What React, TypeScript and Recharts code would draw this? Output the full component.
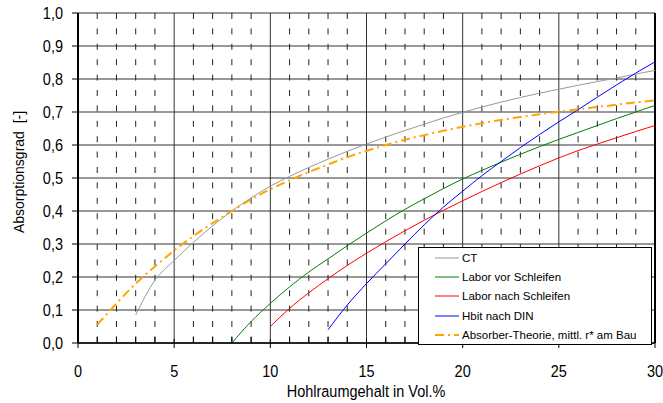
import { LineChart, Line, XAxis, YAxis, CartesianGrid, ReferenceLine, Legend } from "recharts"

const fontFamily = "'Liberation Sans', Arial, sans-serif"

// x ticks
const majorX = [0, 5, 10, 15, 20, 25, 30]
const minorX = [1, 2, 3, 4, 6, 7, 8, 9, 11, 12, 13, 14, 16, 17, 18, 19, 21, 22, 23, 24, 26, 27, 28, 29]
const allX = [0, 1, 2, 3, 4, 5, 6, 7, 8, 9, 10, 11, 12, 13, 14, 15, 16, 17, 18, 19, 20, 21, 22, 23, 24, 25, 26, 27, 28, 29, 30]

// y ticks
const yTicks = [0, 0.1, 0.2, 0.3, 0.4, 0.5, 0.6, 0.7, 0.8, 0.9, 1.0]
const yTickLabels = ["0,0", "0,1", "0,2", "0,3", "0,4", "0,5", "0,6", "0,7", "0,8", "0,9", "1,0"]

const seriesNames = [
  "CT",
  "Labor vor Schleifen",
  "Labor nach Schleifen",
  "Hbit nach DIN",
  "Absorber-Theorie, mittl. r* am Bau",
]
const seriesColors = ["#9a9a9a", "#008000", "#ff0000", "#0000ff", "#ffa500"]

// CT
const ctX = [3, 4, 5, 6, 7, 8, 9, 10, 11, 12, 13, 14, 15, 16, 17, 18, 19, 20, 21, 22, 23, 24, 25, 26, 27, 28, 29, 30]
const ctY = [0.085, 0.19, 0.25, 0.305, 0.355, 0.4, 0.44, 0.475, 0.505, 0.532, 0.557, 0.581, 0.603, 0.624, 0.644, 0.663, 0.682, 0.699, 0.715, 0.73, 0.744, 0.757, 0.769, 0.781, 0.792, 0.803, 0.815, 0.826]

// Labor vor Schleifen
const vorX = [8, 9, 10, 11, 12, 13, 14, 15, 16, 17, 18, 19, 20, 21, 22, 23, 24, 25, 26, 27, 28, 29, 30]
const vorY = [0, 0.065, 0.12, 0.17, 0.215, 0.255, 0.295, 0.333, 0.37, 0.405, 0.437, 0.468, 0.497, 0.523, 0.548, 0.572, 0.595, 0.617, 0.638, 0.659, 0.68, 0.7, 0.72]

// Labor nach Schleifen
const nachX = [10, 11, 12, 13, 14, 15, 16, 17, 18, 19, 20, 21, 22, 23, 24, 25, 26, 27, 28, 29, 30]
const nachY = [0.05, 0.105, 0.152, 0.195, 0.235, 0.272, 0.307, 0.34, 0.372, 0.402, 0.431, 0.459, 0.486, 0.512, 0.537, 0.561, 0.583, 0.603, 0.622, 0.641, 0.659]

// Hbit nach DIN
const dinX = [13, 14, 15, 16, 17, 18, 19, 20, 21, 22, 23, 24, 25, 26, 27, 28, 29, 30]
const dinY = [0.04, 0.115, 0.18, 0.24, 0.3, 0.358, 0.412, 0.46, 0.507, 0.55, 0.592, 0.632, 0.67, 0.707, 0.745, 0.782, 0.818, 0.852]

// Absorber-Theorie
const theoX = [1, 2, 3, 4, 5, 6, 7, 8, 9, 10, 11, 12, 13, 14, 15, 16, 17, 18, 19, 20, 21, 22, 23, 24, 25, 26, 27, 28, 29, 30]
const theoY = [0.055, 0.12, 0.18, 0.232, 0.28, 0.324, 0.363, 0.4, 0.435, 0.466, 0.493, 0.518, 0.541, 0.563, 0.582, 0.6, 0.616, 0.63, 0.643, 0.655, 0.666, 0.676, 0.685, 0.693, 0.701, 0.708, 0.715, 0.722, 0.729, 0.735]

const toPoints = (xs: number[], ys: number[]) => xs.map((x, i) => ({ x, y: ys[i] }))

const series = [
  { data: toPoints(ctX, ctY), width: 1, dash: undefined },
  { data: toPoints(vorX, vorY), width: 1, dash: undefined },
  { data: toPoints(nachX, nachY), width: 1, dash: undefined },
  { data: toPoints(dinX, dinY), width: 1, dash: undefined },
  { data: toPoints(theoX, theoY), width: 2, dash: "9 4 2 4" },
]

function XTick(props: any) {
  const { x, y, payload } = props
  const v = payload.value
  const major = majorX.includes(v)
  return (
    <g>
      {major ? (
        <line x1={x} x2={x} y1={y - 4} y2={y + 5} stroke="#000" />
      ) : (
        <line x1={x} x2={x} y1={y - 6} y2={y} stroke="#000" />
      )}
      {major && (
        <text
          transform={`translate(${x},${y + 34}) scale(1,1.17)`}
          textAnchor="middle"
          fontSize={14.5}
          fontFamily={fontFamily}
          fill="#000"
        >
          {v}
        </text>
      )}
    </g>
  )
}

function YTick(props: any) {
  const { x, y, payload } = props
  const idx = yTicks.indexOf(payload.value)
  return (
    <text
      transform={`translate(${x},${y + 6}) scale(1,1.17)`}
      textAnchor="end"
      fontSize={14.5}
      fontFamily={fontFamily}
      fill="#000"
    >
      {yTickLabels[idx]}
    </text>
  )
}

const renderLegend = () => (
  <div
    style={{
      border: "1px solid #000",
      background: "#fff",
      width: 234,
      height: 98,
      boxSizing: "border-box",
      fontFamily,
      fontSize: 11.5,
      color: "#000",
    }}
  >
    {seriesNames.map((name, i) => (
      <div key={name} style={{ height: 19.4, display: "flex", alignItems: "center" }}>
        <svg width={43} height={10} style={{ flex: "none" }}>
          <line
            x1={16}
            x2={40}
            y1={5}
            y2={5}
            stroke={seriesColors[i]}
            strokeWidth={i === 4 ? 2 : 1}
            strokeDasharray={series[i].dash}
          />
        </svg>
        <span style={{ whiteSpace: "nowrap" }}>{name}</span>
      </div>
    ))}
  </div>
)

export default function App() {
  return (
    <div style={{ position: "absolute", left: 0, top: 0, background: "#fff" }}>
      <LineChart width={663} height={403} margin={{ top: 13, right: 8, bottom: 0, left: 0 }}>
        <CartesianGrid stroke="#333" verticalValues={majorX} horizontalValues={yTicks} />
        <CartesianGrid
          stroke="#222"
          horizontal={false}
          verticalValues={minorX}
          strokeDasharray="6 9.4"
        />
        <XAxis
          type="number"
          dataKey="x"
          domain={[0, 30]}
          ticks={allX}
          interval={0}
          tickSize={0}
          tickMargin={0}
          tickLine={false}
          tick={<XTick />}
          axisLine={{ stroke: "#000", strokeWidth: 1.5 }}
          height={60}
          allowDataOverflow
          label={{
            value: "Hohlraumgehalt in Vol.%",
            content: () => (
              <text
                transform="translate(366,397) scale(1,1.17)"
                textAnchor="middle"
                fontSize={14.5}
                fontFamily={fontFamily}
                fill="#000"
              >
                Hohlraumgehalt in Vol.%
              </text>
            ),
          }}
        />
        <YAxis
          type="number"
          domain={[0, 1]}
          ticks={yTicks}
          interval={0}
          width={78}
          tickSize={6}
          tickMargin={9}
          tick={<YTick />}
          tickLine={{ stroke: "#000" }}
          axisLine={{ stroke: "#000", strokeWidth: 2 }}
          allowDataOverflow
          label={{
            value: "Absorptionsgrad  [-]",
            content: () => (
              <text
                transform="translate(24,172) rotate(-90)"
                textAnchor="middle"
                fontSize={14}
                fontFamily={fontFamily}
                fill="#000"
              >
                {"Absorptionsgrad\u00a0\u00a0[-]"}
              </text>
            ),
          }}
        />
        <ReferenceLine x={30} stroke="#000" strokeWidth={2} />
        {series.map((s, i) => (
          <Line
            key={seriesNames[i]}
            data={s.data}
            dataKey="y"
            name={seriesNames[i]}
            type="monotone"
            stroke={seriesColors[i]}
            strokeWidth={s.width}
            strokeDasharray={s.dash}
            dot={false}
            activeDot={false}
            isAnimationActive={false}
          />
        ))}
        <Legend
          layout="vertical"
          align="center"
          verticalAlign="middle"
          content={renderLegend}
          wrapperStyle={{ left: 418, top: 247, width: 234, height: 98 }}
        />
      </LineChart>
    </div>
  )
}
